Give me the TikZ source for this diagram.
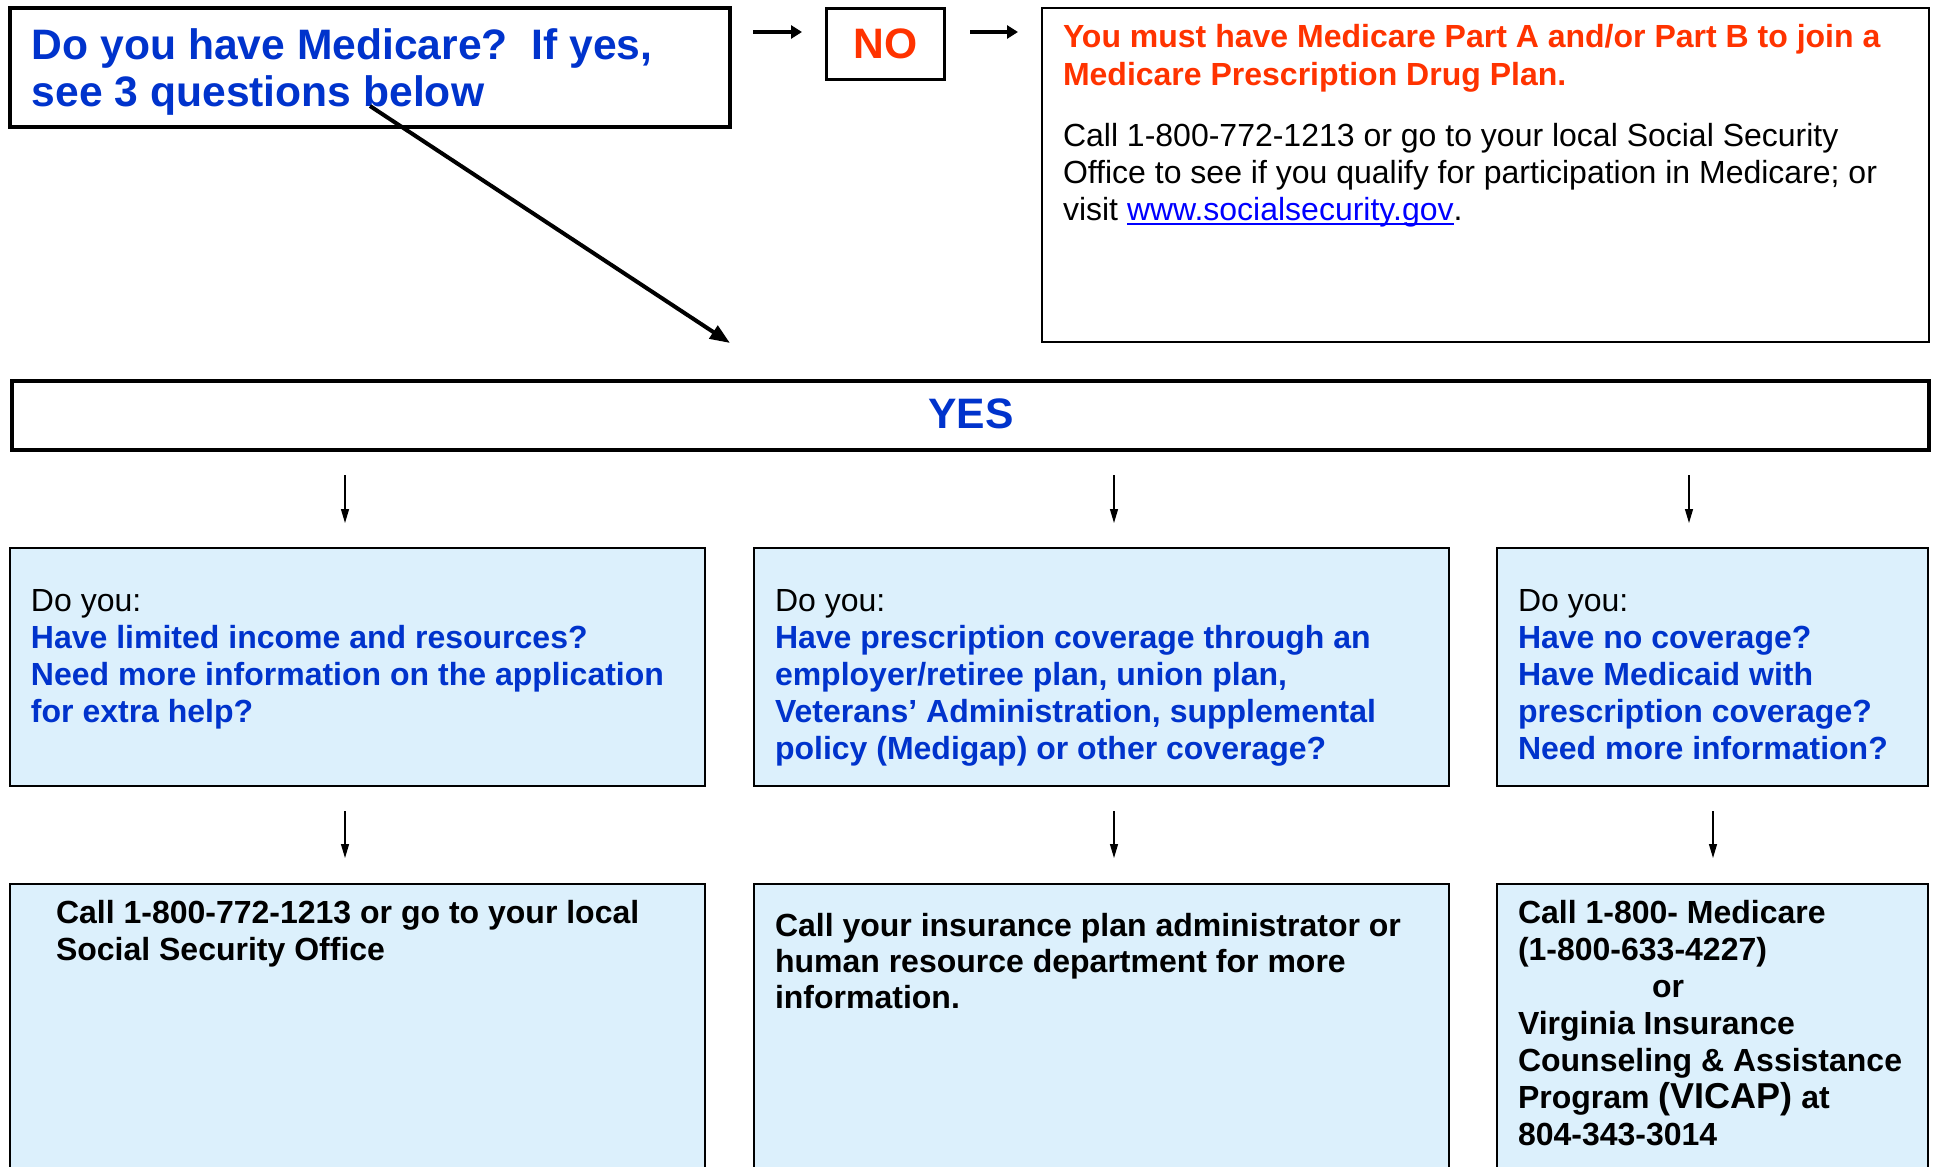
\documentclass[tikz,border=0pt]{standalone}
\usepackage{fontspec}
\setmainfont{Liberation Sans}
\usetikzlibrary{arrows.meta}
\definecolor{qblue}{HTML}{0033CC}
\definecolor{nored}{HTML}{FF3300}
\definecolor{linkblue}{HTML}{0000FF}
\definecolor{boxfill}{HTML}{DCF0FC}
\newcommand\ulink[1]{\setbox0\hbox{#1}\rlap{\rule[-2.6pt]{\wd0}{0.9pt}}\box0}
\newcommand\bodyfs{\fontsize{16}{18.5}\selectfont}
\newcommand\titlefs{\fontsize{21.3}{24}\selectfont}
\newcommand\blk[2]{\parbox[t]{#1}{\raggedright\leavevmode #2}}
\begin{document}
\begin{tikzpicture}[x=0.5pt,y=-0.5pt,
  every node/.style={inner sep=0pt, outer sep=0pt},
  txt/.style={anchor=base west},
  heavybox/.style={draw, line width=2pt, anchor=north west},
  nobox/.style={draw, line width=1.5pt, anchor=north west},
  msgbox/.style={draw, line width=1pt, anchor=north west},
  bluebox/.style={draw, line width=0.8pt, fill=boxfill, anchor=north west},
  harrow/.style={line width=1.7pt, -{Triangle[length=5.5pt,width=6.5pt]}},
  darrow/.style={line width=0.6pt, -{Triangle[length=7pt,width=4pt]}},
  diagarrow/.style={line width=2pt, -{Triangle[length=10pt,width=7.5pt]}},
]
\useasboundingbox (0,0) rectangle (1939,1167);
\clip (0,0) rectangle (1939,1167);
\fill[white] (0,0) rectangle (1939,1167);

% boxes
\node[heavybox, minimum width=360pt, minimum height=59.5pt] (med) at (10,8) {};
\node[nobox, minimum width=59pt, minimum height=35.5pt] (no) at (826.5,8.5) {};
\node[msgbox, minimum width=443.5pt, minimum height=167pt] (msg) at (1042,8) {};
\node[heavybox, minimum width=958.5pt, minimum height=34.5pt] (yes) at (12,381) {};
\node[bluebox, minimum width=347.5pt, minimum height=119pt] (q1) at (10,548) {};
\node[bluebox, minimum width=347.5pt, minimum height=119pt] (q2) at (754,548) {};
\node[bluebox, minimum width=215.5pt, minimum height=119pt] (q3) at (1497,548) {};
\node[bluebox, minimum width=347.5pt, minimum height=170pt] (a1) at (10,884) {};
\node[bluebox, minimum width=347.5pt, minimum height=170pt] (a2) at (754,884) {};
\node[bluebox, minimum width=215.5pt, minimum height=170pt] (a3) at (1497,884) {};

% texts
\node[txt, text=qblue] (medtxt) at (32,59) {\blk{345pt}{\titlefs\bfseries Do you have Medicare?\ \ If yes,\\see 3 questions below}};
\node[anchor=base, text=nored] (notxt) at (885.5,58) {\titlefs\bfseries NO};
\node[txt, text=nored] (msgred) at (1063,47) {\blk{430pt}{\fontsize{16}{19}\selectfont\bfseries You must have Medicare Part A and/or Part B to join a\\Medicare Prescription Drug Plan.}};
\node[txt] (msgblk) at (1063,146) {\blk{430pt}{\bodyfs Call 1-800-772-1213 or go to your local Social Security\\Office to see if you qualify for participation in Medicare; or\\visit \textcolor{linkblue}{\ulink{www.socialsecurity.gov}}.}};
\node[anchor=base, text=qblue] (yestxt) at (971,428) {\titlefs\bfseries YES};

\node[txt] (q1txt) at (31,611) {\blk{330pt}{\bodyfs Do you:\\\color{qblue}\bfseries Have limited income and resources?\\Need more information on the application\\for extra help?}};
\node[txt] (q2txt) at (775,611) {\blk{330pt}{\bodyfs Do you:\\\color{qblue}\bfseries Have prescription coverage through an\\employer/retiree plan, union plan,\\Veterans’ Administration, supplemental\\policy (Medigap) or other coverage?}};
\node[txt] (q3txt) at (1518,611) {\blk{200pt}{\bodyfs Do you:\\\color{qblue}\bfseries Have no coverage?\\Have Medicaid with\\prescription coverage?\\Need more information?}};

\node[txt] (a1txt) at (56,923) {\blk{320pt}{\bodyfs\bfseries Call 1-800-772-1213 or go to your local\\Social Security Office}};
\node[txt] (a2txt) at (775,936) {\blk{330pt}{\fontsize{16}{18}\selectfont\bfseries Call your insurance plan administrator or\\human resource department for more\\information.}};
\node[txt] (a3txt) at (1518,923) {\blk{200pt}{\bodyfs\bfseries Call 1-800- Medicare\\(1-800-633-4227)\\\hspace*{67pt}or\\Virginia Insurance\\Counseling \& Assistance\\Program {\fontsize{18}{18.5}\selectfont(VICAP)} at\\804-343-3014}};

% connectors
\coordinate (h1a) at (753,32); \coordinate (h1b) at (802,32);
\coordinate (h2a) at (970,32); \coordinate (h2b) at (1018,32);
\coordinate (dga) at (370,106); \coordinate (dgb) at (730,343);
\draw[harrow] (h1a) -- (h1b);
\draw[harrow] (h2a) -- (h2b);
\draw[diagarrow] (dga) -- (dgb);

\coordinate (u1a) at (345,475); \coordinate (u1b) at (345,523);
\coordinate (u2a) at (1114,475); \coordinate (u2b) at (1114,523);
\coordinate (u3a) at (1689,475); \coordinate (u3b) at (1689,523);
\coordinate (l1a) at (345,811); \coordinate (l1b) at (345,858);
\coordinate (l2a) at (1114,811); \coordinate (l2b) at (1114,858);
\coordinate (l3a) at (1713,811); \coordinate (l3b) at (1713,858);
\foreach \s/\e in {u1a/u1b,u2a/u2b,u3a/u3b,l1a/l1b,l2a/l2b,l3a/l3b}
  \draw[darrow] (\s) -- (\e);
\end{tikzpicture}
\end{document}
